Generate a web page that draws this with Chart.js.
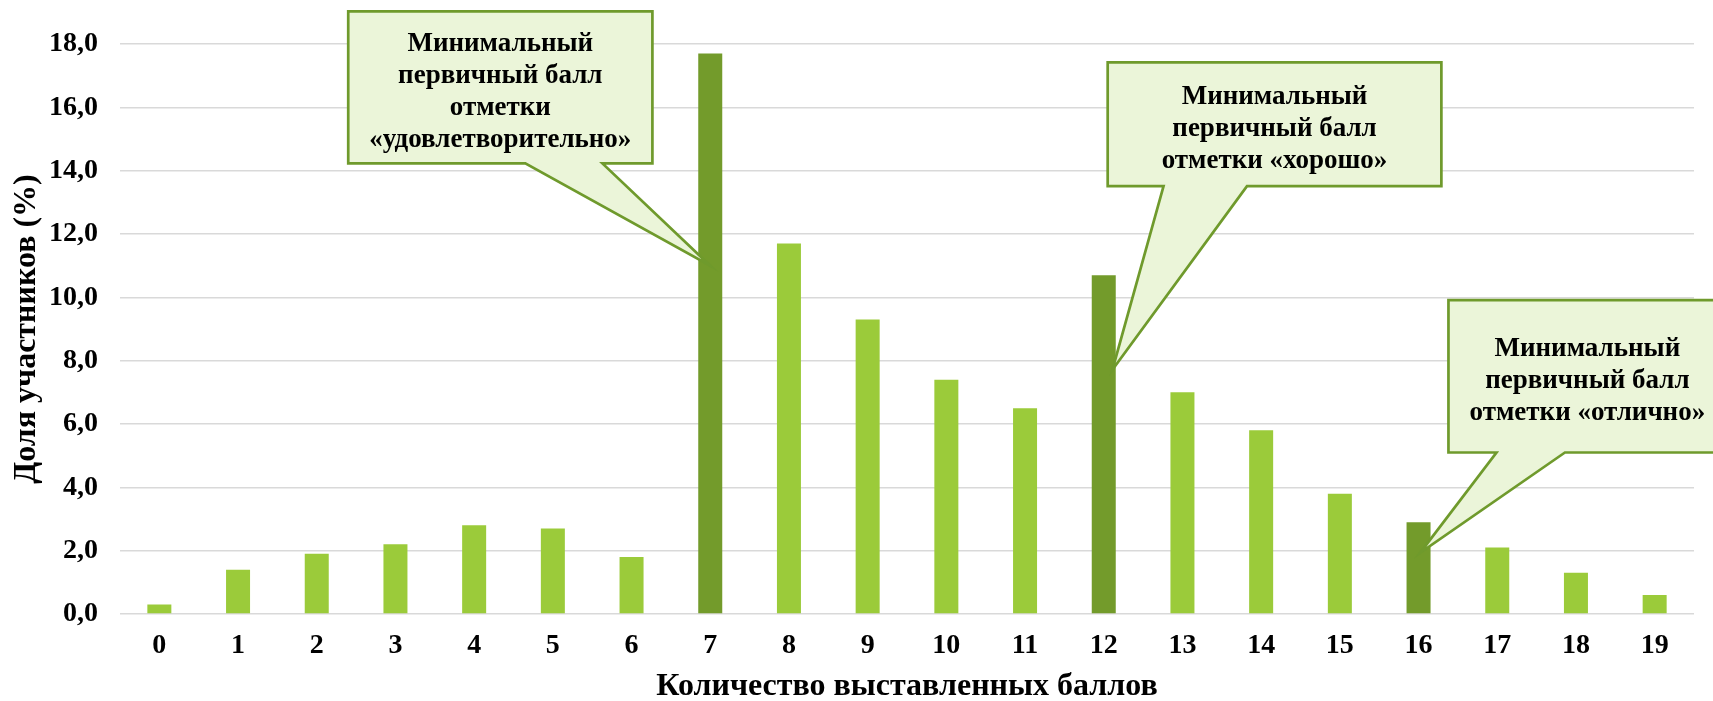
<!DOCTYPE html>
<html>
<head>
<meta charset="utf-8">
<script src="https://cdn.jsdelivr.net/npm/chart.js@4/dist/chart.umd.min.js"></script>
<style>
  html, body { margin: 0; padding: 0; background: #ffffff; }
  #wrap { width: 1713px; height: 701px; position: relative; }
</style>
</head>
<body>
<div id="wrap"><canvas id="c" width="1713" height="701"></canvas></div>
<script>
// ---- data ----
const categories = ['0','1','2','3','4','5','6','7','8','9','10','11','12','13','14','15','16','17','18','19'];
const shares = [0.3, 1.4, 1.9, 2.2, 2.8, 2.7, 1.8, 17.7, 11.7, 9.3, 7.4, 6.5, 10.7, 7.0, 5.8, 3.8, 2.9, 2.1, 1.3, 0.6];
const thresholdScores = [7, 12, 16];
const yTickValues = [0, 2, 4, 6, 8, 10, 12, 14, 16, 18];
const xTitle = 'Количество выставленных баллов';
const yTitle = 'Доля участников (%)';
const calloutTexts = [
  ['Минимальный', 'первичный балл', 'отметки', '«удовлетворительно»'],
  ['Минимальный', 'первичный балл', 'отметки «хорошо»'],
  ['Минимальный', 'первичный балл', 'отметки «отлично»']
];
const calloutTargets = [7, 12, 16];

// ---- styles ----
const LIGHT = '#9BCB3A';
const DARK = '#739B2B';
const FONT = "'Liberation Serif', 'Times New Roman', serif";
const barColors = categories.map((c, i) => thresholdScores.includes(i) ? DARK : LIGHT);

// callout geometry in axis units (category index / value)
const calloutGeom = [
  { left: 2.40, right: 6.265, top: 19.03, bottom: 14.23, base1: 4.65, base2: 5.63, tipDx: 0.0, tipY: 11.0 },
  { left: 12.05, right: 16.29, top: 17.42, bottom: 13.51, base1: 12.76, base2: 13.82, tipDx: 0.11, tipY: 7.71 },
  { left: 16.38, right: 19.91, top: 9.91, bottom: 5.10, base1: 16.99, base2: 17.86, tipDx: 0.02, tipY: 1.93 }
];

const calloutPlugin = {
  id: 'callouts',
  afterDatasetsDraw(chart) {
    const ctx = chart.ctx;
    const xs = chart.scales.x, ys = chart.scales.y;
    const X = v => xs.getPixelForValue(v);
    const Y = v => ys.getPixelForValue(v);
    ctx.save();
    calloutGeom.forEach((g, k) => {
      const l = X(g.left), r = X(g.right), t = Y(g.top), b = Y(g.bottom);
      const b1 = X(g.base1), b2 = X(g.base2);
      const tx = X(calloutTargets[k] + g.tipDx), ty = Y(g.tipY);
      ctx.beginPath();
      ctx.moveTo(l, t);
      ctx.lineTo(r, t);
      ctx.lineTo(r, b);
      ctx.lineTo(b2, b);
      ctx.lineTo(tx, ty);
      ctx.lineTo(b1, b);
      ctx.lineTo(l, b);
      ctx.closePath();
      ctx.fillStyle = '#EBF5D9';
      ctx.fill();
      ctx.lineWidth = 2.7;
      ctx.lineJoin = 'miter';
      ctx.strokeStyle = '#6F9A2C';
      ctx.stroke();
      const lines = calloutTexts[k];
      const cx = (l + r) / 2, cy = (t + b) / 2 + 5;
      const lh = 32;
      ctx.fillStyle = '#000000';
      ctx.font = "bold 27px " + FONT;
      ctx.textAlign = 'center';
      ctx.textBaseline = 'middle';
      lines.forEach((s, i) => {
        ctx.fillText(s, cx, cy + (i - (lines.length - 1) / 2) * lh);
      });
    });
    ctx.restore();
  }
};

new Chart(document.getElementById('c'), {
  type: 'bar',
  data: {
    labels: categories,
    datasets: [{
      data: shares,
      backgroundColor: barColors,
      borderWidth: 0,
      categoryPercentage: 1.0,
      barPercentage: 0.305
    }]
  },
  options: {
    responsive: false,
    maintainAspectRatio: false,
    devicePixelRatio: 1,
    animation: false,
    layout: { padding: { top: 44, right: 19, bottom: 0, left: 0 } },
    plugins: {
      legend: { display: false },
      tooltip: { enabled: false },
      title: { display: false }
    },
    scales: {
      x: {
        grid: { display: false, drawTicks: false },
        border: { display: false },
        ticks: {
          color: '#000000',
          font: { family: FONT, size: 28, weight: 'bold' },
          padding: 15,
          maxRotation: 0,
          autoSkip: false
        },
        title: {
          display: true,
          text: xTitle,
          color: '#000000',
          font: { family: FONT, size: 32, weight: 'bold', lineHeight: 1 },
          padding: { top: 0, bottom: -2 }
        },
        afterFit(s) { s.height = 87; }
      },
      y: {
        min: 0,
        max: 18,
        afterBuildTicks(s) { s.ticks = yTickValues.map(v => ({ value: v })); },
        grid: { color: '#D9D9D9', lineWidth: 1.5, drawTicks: false },
        border: { display: false },
        ticks: {
          color: '#000000',
          font: { family: FONT, size: 28, weight: 'bold' },
          padding: 22,
          callback: v => v.toFixed(1).replace('.', ',')
        },
        title: {
          display: true,
          text: yTitle,
          color: '#000000',
          font: { family: FONT, size: 32, weight: 'bold', lineHeight: 1 },
          padding: { top: 11, bottom: 0 }
        },
        afterFit(s) { s.width = 120; }
      }
    }
  },
  plugins: [calloutPlugin]
});
</script>
</body>
</html>
